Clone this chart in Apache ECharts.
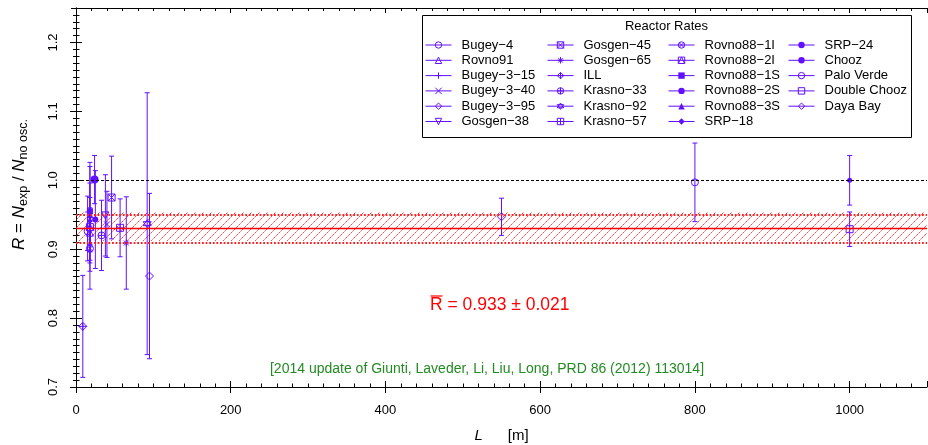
<!DOCTYPE html>
<html><head><meta charset="utf-8">
<script src="https://cdn.jsdelivr.net/npm/echarts@6/dist/echarts.min.js"></script>
<style>html,body{margin:0;padding:0;background:#fff}#c{width:928px;height:445px}</style>
</head><body><div id="c"></div>
<script>
// ---------------- data ----------------
const reactors = ['Bugey\u22124','Rovno91','Bugey\u22123\u221215','Bugey\u22123\u221240','Bugey\u22123\u221295','Gosgen\u221238',
  'Gosgen\u221245','Gosgen\u221265','ILL','Krasno\u221233','Krasno\u221292','Krasno\u221257',
  'Rovno88\u22121I','Rovno88\u22122I','Rovno88\u22121S','Rovno88\u22122S','Rovno88\u22123S','SRP\u221218',
  'SRP\u221224','Chooz','Palo Verde','Double Chooz','Daya Bay'];
const distances = [15, 18, 15, 40, 95, 38, 46, 65, 8.8, 33, 92, 57, 18, 18, 18, 25, 18, 18, 24, 1000, 800, 1000, 550];
const ratios    = [0.926, 0.924, 0.930, 0.936, 0.861, 0.949, 0.975, 0.909, 0.788, 0.920, 0.937, 0.931,
                   0.901, 0.932, 0.955, 0.943, 0.950, 0.941, 1.001, 1.000, 0.997, 0.929, 0.947];
const errors    = [0.028, 0.028, 0.047, 0.048, 0.120, 0.059, 0.060, 0.067, 0.074, 0.051, 0.190, 0.042,
                   0.059, 0.064, 0.071, 0.071, 0.070, 0.034, 0.035, 0.036, 0.057, 0.025, 0.027];
const meanR = 0.933;
const meanErr = 0.021;
const noOscR = 1.0;
const xRange = [0, 1100];
const yRange = [0.7, 1.25];
const xMajor = 200, xMinor = 20, yMajor = 0.1, yMinor = 0.01;
const legendColumns = [6, 6, 6, 5];
const legendTitle = 'Reactor Rates';
const citation = '[2014 update of Giunti, Laveder, Li, Liu, Long, PRD 86 (2012) 113014]';

// ---------------- styles ----------------
const C = '#6010ff';
const F = '"Liberation Sans", Arial, Helvetica, sans-serif';
const circ = 'M5,0A5,5,0,1,1,5,10A5,5,0,1,1,5,0Z';
const sq = 'M0,0L10,0L10,10L0,10Z';
const dia = 'M5,0L10,5L5,10L0,5Z';
const plus = 'M0,5L10,5M5,0L5,10';
const cross = 'M0,0L10,10M0,10L10,0';
const crossIn = 'M1.6,1.6L8.4,8.4M1.6,8.4L8.4,1.6';
const P = s => 'path://' + s;
const symbolStyles = [
  [P(circ), 7, false], [P('M5,0L10,8.66L0,8.66Z'), 7, false], [P(plus), 7, false], [P(cross), 6, false],
  [P(dia), 8, false], [P('M0,0L10,0L5,8.66Z'), 7, false],
  [P(sq + cross), 7, false], [P(plus + 'M1.5,1.5L8.5,8.5M1.5,8.5L8.5,1.5'), 7, false], [P(dia + plus), 8, false],
  [P(circ + plus), 7, false], [P('M5,0L10,7.5L0,7.5ZM0,2.5L10,2.5L5,10Z'), 8, false], [P(sq + plus), 7, false],
  [P(circ + crossIn), 7, false], [P(sq + 'M0,10L5,0L10,10'), 7, false], ['rect', 6, true],
  ['circle', 6, true], ['triangle', 7, true], ['diamond', 6, true],
  ['circle', 8, true], ['circle', 5, true], [P(circ), 7, false], [P(sq), 7, false], [P(dia), 8, false]
];

// hatch pattern
const pc = document.createElement('canvas'); pc.width = 8; pc.height = 8;
const g = pc.getContext('2d');
g.strokeStyle = 'rgba(255,0,0,0.9)'; g.lineWidth = 1; g.setLineDash([1.4, 0.8]);
g.beginPath(); g.moveTo(-1, 9); g.lineTo(9, -1); g.stroke();

const chart = echarts.init(document.getElementById('c'), null, {renderer: 'canvas'});

function xAx(pos, interval, len, inside, extra) {
  return Object.assign({type: 'value', min: xRange[0], max: xRange[1], interval: interval, position: pos,
    splitLine: {show: false}, axisLine: {show: false}, axisLabel: {show: false},
    axisTick: {show: true, inside: inside, length: len, lineStyle: {color: '#000', width: 1}}}, extra || {});
}
function yAx(pos, interval, len, inside, extra) {
  return Object.assign({type: 'value', min: yRange[0], max: yRange[1], interval: interval, position: pos,
    splitLine: {show: false}, axisLine: {show: false}, axisLabel: {show: false},
    axisTick: {show: true, inside: inside, length: len, lineStyle: {color: '#000', width: 1}}}, extra || {});
}
const lineOn = {show: true, lineStyle: {color: '#000', width: 1}};

const xAxes = [
  xAx('bottom', xMajor, 6, false, {axisLine: lineOn,
    axisLabel: {show: true, margin: 17, fontSize: 13, color: '#000', fontFamily: F, showMaxLabel: false,
      formatter: v => String(v)},
    name: '{i|L}      [m]', nameLocation: 'middle', nameGap: 40,
    nameTextStyle: {fontSize: 15, color: '#000', fontFamily: F, lineHeight: 18,
      rich: {i: {fontStyle: 'italic', fontSize: 15, fontFamily: F, color: '#000', lineHeight: 18}}}}),
  xAx('bottom', xMajor, 6, true),
  xAx('bottom', xMinor, 3.5, true),
  xAx('top', xMajor, 5, true, {axisLine: lineOn}),
  xAx('top', xMinor, 3, true)
];
const yAxes = [
  yAx('left', yMajor, 6, false, {axisLine: lineOn,
    axisLabel: {show: true, rotate: 90, margin: 16, fontSize: 13, color: '#000', fontFamily: F, showMaxLabel: false,
      formatter: v => v.toFixed(1)},
    name: '{i|R} = {i|N}{s|exp} / {i|N}{s|no osc.}', nameLocation: 'middle', nameRotate: 90, nameGap: 46,
    nameTextStyle: {fontSize: 17, color: '#000', fontFamily: F, lineHeight: 22, padding: [0, 0, 0, 26],
      rich: {i: {fontStyle: 'italic', fontSize: 17, fontFamily: F, color: '#000', lineHeight: 22},
             s: {fontSize: 12.5, fontFamily: F, color: '#000', lineHeight: 12, verticalAlign: 'bottom'}}}}),
  yAx('left', yMajor, 6, true),
  yAx('left', yMinor, 3.5, true),
  yAx('right', yMajor, 5, true, {axisLine: lineOn}),
  yAx('right', yMinor, 3, true)
];

const series = [];
series.push({
  type: 'line', name: '_bg', data: [], xAxisIndex: 0, yAxisIndex: 0, silent: true, z: 1,
  markArea: {silent: true, itemStyle: {color: {image: pc, repeat: 'repeat'}},
    data: [[{xAxis: xRange[0], yAxis: meanR - meanErr}, {xAxis: xRange[1], yAxis: meanR + meanErr}]]},
  markLine: {silent: true, symbol: ['none', 'none'], label: {show: false}, animation: false,
    data: [
      {yAxis: noOscR, lineStyle: {color: '#000', type: [3, 2], width: 1}},
      {yAxis: meanR, lineStyle: {color: '#ff0000', type: 'solid', width: 1.3}},
      {yAxis: meanR - meanErr, lineStyle: {color: '#ff2020', type: 'dotted', width: 1.8}},
      {yAxis: meanR + meanErr, lineStyle: {color: '#ff2020', type: 'dotted', width: 1.8}}
    ]}
});
series.push({
  type: 'custom', name: '_err', xAxisIndex: 0, yAxisIndex: 0, silent: true, z: 3,
  itemStyle: {color: C},
  data: reactors.map((n, i) => [distances[i], ratios[i], errors[i]]),
  renderItem: (params, api) => {
    const x = api.value(0), y = api.value(1), e = api.value(2);
    const t = api.coord([x, y + e]), b = api.coord([x, y - e]);
    const c = 2.5;
    const mk = (x1, y1, x2, y2) => ({type: 'line', shape: {x1: x1, y1: y1, x2: x2, y2: y2},
      style: {stroke: C, lineWidth: 1, fill: null, opacity: 1}});
    return {type: 'group', children: [
      mk(t[0], t[1], b[0], b[1]),
      mk(t[0] - c, t[1], t[0] + c, t[1]),
      mk(b[0] - c, b[1], b[0] + c, b[1])
    ]};
  }
});
reactors.forEach((name, i) => {
  const s = symbolStyles[i];
  series.push({
    type: 'line', name: name, xAxisIndex: 0, yAxisIndex: 0, data: [[distances[i], ratios[i]]],
    symbol: s[0], symbolSize: s[1], showSymbol: true, silent: true, z: 4,
    itemStyle: s[2] ? {color: C, borderWidth: 0} : {color: 'rgba(0,0,0,0)', borderColor: C, borderWidth: 1},
    lineStyle: {color: C, width: 1},
    emphasis: {disabled: true}
  });
});

const legendLefts = [425, 547, 668, 788];
const legends = [];
let start = 0;
legendColumns.forEach((n, k) => {
  legends.push({
    orient: 'vertical', left: legendLefts[k], top: 37.5, padding: 0,
    data: reactors.slice(start, start + n),
    itemWidth: 26, itemHeight: 8, itemGap: 0.3, selectedMode: false,
    itemStyle: {borderWidth: 1}, lineStyle: {width: 1},
    textStyle: {fontSize: 13, lineHeight: 15, color: '#000', fontFamily: F, padding: [0, 0, 0, 5]}
  });
  start += n;
});

const rText = 'R = ' + meanR.toFixed(3) + ' \u00b1 ' + meanErr.toFixed(3);

chart.setOption({
  animation: false,
  backgroundColor: '#fff',
  grid: {left: 76, right: 1, top: 8, bottom: 58, containLabel: false, outerBoundsMode: 'none'},
  xAxis: xAxes,
  yAxis: yAxes,
  legend: legends,
  series: series,
  graphic: [
    {type: 'rect', shape: {x: 422.5, y: 15.5, width: 489, height: 122}, style: {fill: 'none', stroke: '#000', lineWidth: 1}, silent: true},
    {type: 'text', x: 666.5, y: 26, style: {text: legendTitle, fill: '#000', font: '13px ' + F, align: 'center', verticalAlign: 'middle'}, silent: true},
    {type: 'text', x: 430, y: 305, style: {text: rText, fill: '#ff0000', font: '17.5px ' + F, align: 'left', verticalAlign: 'middle'}, silent: true},
    {type: 'line', shape: {x1: 430.5, y1: 296, x2: 442.5, y2: 296}, style: {stroke: '#ff0000', lineWidth: 1.2}, silent: true},
    {type: 'text', x: 487, y: 369, style: {text: citation, fill: '#228B22', font: '14px ' + F, align: 'center', verticalAlign: 'middle'}, silent: true}
  ]
});
</script></body></html>
